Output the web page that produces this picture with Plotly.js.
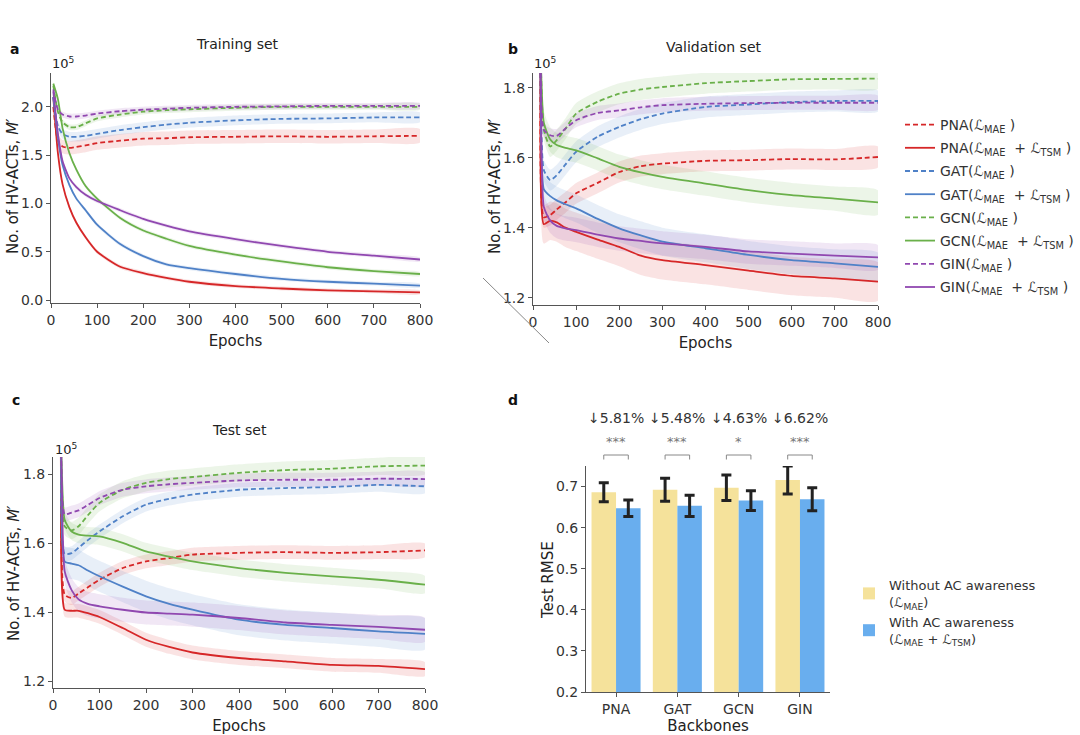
<!DOCTYPE html>
<html>
<head>
<meta charset="utf-8">
<script src="https://cdn.plot.ly/plotly-3.0.1.min.js"></script>
<style>
  html, body { margin: 0; padding: 0; background: #fff; }
  #chart { width: 1080px; height: 735px; }
</style>
</head>
<body>
<div id="chart"></div>
<script>
var epochs = [5, 15, 25, 40, 55, 75, 100, 150, 200, 250, 300, 400, 500, 600, 700, 800];

// a: training set (x 1e5)
var trainPnaMae = [2.00, 1.65, 1.59, 1.575, 1.585, 1.60, 1.625, 1.65, 1.67, 1.675, 1.685, 1.69, 1.695, 1.69, 1.695, 1.70];
var trainPnaTsm = [2.10, 1.52, 1.20, 0.96, 0.80, 0.65, 0.50, 0.345, 0.28, 0.23, 0.19, 0.145, 0.12, 0.10, 0.09, 0.08];
var trainGatMae = [2.10, 1.80, 1.72, 1.69, 1.69, 1.70, 1.72, 1.76, 1.79, 1.815, 1.835, 1.86, 1.875, 1.88, 1.89, 1.89];
var trainGatTsm = [2.10, 1.68, 1.40, 1.19, 1.05, 0.93, 0.78, 0.58, 0.455, 0.37, 0.33, 0.27, 0.22, 0.19, 0.17, 0.15];
var trainGcnMae = [2.22, 1.95, 1.84, 1.79, 1.79, 1.83, 1.88, 1.92, 1.95, 1.965, 1.975, 1.99, 2.00, 2.00, 2.00, 2.00];
var trainGcnTsm = [2.24, 2.08, 1.78, 1.52, 1.35, 1.18, 1.05, 0.85, 0.72, 0.635, 0.56, 0.47, 0.40, 0.34, 0.30, 0.27];
var trainGinMae = [2.18, 1.97, 1.92, 1.90, 1.90, 1.91, 1.93, 1.955, 1.97, 1.98, 1.99, 2.00, 2.005, 2.01, 2.01, 2.01];
var trainGinTsm = [2.16, 1.72, 1.44, 1.26, 1.17, 1.09, 1.025, 0.93, 0.84, 0.77, 0.71, 0.63, 0.56, 0.50, 0.46, 0.42];
var trainBand = [0.07, 0.02, 0.05, 0.02, 0.03, 0.02, 0.03, 0.02];

// b: validation set
var valPnaMae = [2.00, 1.95, 1.43, 1.436, 1.452, 1.472, 1.498, 1.528, 1.559, 1.576, 1.583, 1.591, 1.593, 1.596, 1.595, 1.602];
var valPnaTsm = [2.00, 1.95, 1.41, 1.42, 1.415, 1.40, 1.388, 1.366, 1.345, 1.32, 1.307, 1.293, 1.277, 1.262, 1.255, 1.246];
var valGatMae = [2.00, 1.95, 1.565, 1.536, 1.55, 1.58, 1.617, 1.66, 1.688, 1.71, 1.726, 1.745, 1.752, 1.759, 1.762, 1.762];
var valGatTsm = [2.00, 1.95, 1.51, 1.49, 1.478, 1.467, 1.455, 1.425, 1.398, 1.378, 1.36, 1.341, 1.322, 1.307, 1.298, 1.288];
var valGcnMae = [2.00, 1.95, 1.68, 1.632, 1.65, 1.682, 1.726, 1.76, 1.783, 1.795, 1.802, 1.813, 1.819, 1.824, 1.825, 1.826];
var valGcnTsm = [2.00, 1.95, 1.70, 1.652, 1.636, 1.628, 1.621, 1.598, 1.574, 1.558, 1.545, 1.526, 1.507, 1.493, 1.483, 1.472];
var valGinMae = [2.00, 1.95, 1.68, 1.664, 1.662, 1.683, 1.707, 1.728, 1.735, 1.744, 1.75, 1.754, 1.756, 1.757, 1.757, 1.757];
var valGinTsm = [2.00, 1.95, 1.46, 1.42, 1.405, 1.398, 1.393, 1.38, 1.369, 1.362, 1.355, 1.345, 1.332, 1.326, 1.32, 1.315];
var valBand = [0.03, 0.055, 0.03, 0.04, 0.03, 0.035, 0.02, 0.035];

// c: test set
var testPnaMae = [2.00, 1.95, 1.452, 1.442, 1.455, 1.473, 1.495, 1.529, 1.548, 1.558, 1.568, 1.573, 1.575, 1.573, 1.575, 1.58];
var testPnaTsm = [2.00, 1.95, 1.408, 1.405, 1.405, 1.398, 1.387, 1.355, 1.321, 1.30, 1.284, 1.268, 1.258, 1.248, 1.245, 1.236];
var testGatMae = [2.00, 1.95, 1.57, 1.572, 1.588, 1.61, 1.635, 1.679, 1.713, 1.73, 1.742, 1.756, 1.761, 1.764, 1.77, 1.766];
var testGatTsm = [2.00, 1.95, 1.548, 1.542, 1.537, 1.522, 1.505, 1.475, 1.447, 1.425, 1.408, 1.379, 1.364, 1.355, 1.345, 1.338];
var testGcnMae = [2.00, 1.95, 1.65, 1.638, 1.65, 1.682, 1.718, 1.756, 1.776, 1.787, 1.793, 1.805, 1.813, 1.817, 1.824, 1.826];
var testGcnTsm = [2.00, 1.95, 1.669, 1.635, 1.626, 1.623, 1.621, 1.602, 1.577, 1.562, 1.548, 1.529, 1.515, 1.505, 1.495, 1.481];
var testGinMae = [2.00, 1.95, 1.685, 1.69, 1.696, 1.712, 1.732, 1.756, 1.766, 1.772, 1.776, 1.783, 1.785, 1.785, 1.788, 1.787];
var testGinTsm = [2.00, 1.95, 1.52, 1.465, 1.438, 1.425, 1.418, 1.408, 1.40, 1.397, 1.394, 1.384, 1.371, 1.364, 1.358, 1.35];
var testBand = [0.02, 0.02, 0.02, 0.045, 0.025, 0.025, 0.02, 0.035];

// d: test RMSE
var backbones = ['PNA', 'GAT', 'GCN', 'GIN'];
var rmseMae = [0.686, 0.692, 0.697, 0.716];
var rmseMaeErr = [0.023, 0.028, 0.031, 0.034];
var rmseTsm = [0.647, 0.653, 0.666, 0.669];
var rmseTsmErr = [0.020, 0.026, 0.024, 0.028];
var drops = ['5.81%', '5.48%', '4.63%', '6.62%'];
var stars = ['***', '***', '*', '***'];

var seriesNames = [
    'PNA(ℒ<sub>MAE</sub> )', 'PNA(ℒ<sub>MAE</sub>  + ℒ<sub>TSM</sub> )',
    'GAT(ℒ<sub>MAE</sub> )', 'GAT(ℒ<sub>MAE</sub>  + ℒ<sub>TSM</sub> )',
    'GCN(ℒ<sub>MAE</sub> )', 'GCN(ℒ<sub>MAE</sub>  + ℒ<sub>TSM</sub> )',
    'GIN(ℒ<sub>MAE</sub> )', 'GIN(ℒ<sub>MAE</sub>  + ℒ<sub>TSM</sub> )'
];
var lineColors = ['#d62728', '#d62728', '#4f81c7', '#4f81c7', '#6ab04a', '#6ab04a', '#9048b0', '#9048b0'];
var bandColors = ['rgba(214,39,40,0.13)', 'rgba(214,39,40,0.13)', 'rgba(79,129,199,0.13)', 'rgba(79,129,199,0.13)',
                  'rgba(106,176,74,0.13)', 'rgba(106,176,74,0.13)', 'rgba(144,72,176,0.13)', 'rgba(144,72,176,0.13)'];

var panels = [
    {xa: 'x', ya: 'y', series: [trainPnaMae, trainPnaTsm, trainGatMae, trainGatTsm, trainGcnMae, trainGcnTsm, trainGinMae, trainGinTsm], band: trainBand},
    {xa: 'x2', ya: 'y2', series: [valPnaMae, valPnaTsm, valGatMae, valGatTsm, valGcnMae, valGcnTsm, valGinMae, valGinTsm], band: valBand},
    {xa: 'x3', ya: 'y3', series: [testPnaMae, testPnaTsm, testGatMae, testGatTsm, testGcnMae, testGcnTsm, testGinMae, testGinTsm], band: testBand}
];

var data = [];
panels.forEach(function(p, pi) {
    // shaded bands first
    p.series.forEach(function(s, i) {
        var up = s.map(function(v) { return v + p.band[i]; });
        var lo = s.map(function(v) { return v - p.band[i]; });
        data.push({
            type: 'scatter', mode: 'lines', xaxis: p.xa, yaxis: p.ya,
            x: epochs.concat(epochs.slice().reverse()),
            y: up.concat(lo.reverse()),
            fill: 'toself', fillcolor: bandColors[i],
            line: {width: 0, shape: 'spline', smoothing: 0.6},
            showlegend: false, hoverinfo: 'skip'
        });
    });
    p.series.forEach(function(s, i) {
        data.push({
            type: 'scatter', mode: 'lines', xaxis: p.xa, yaxis: p.ya,
            x: epochs, y: s,
            name: seriesNames[i],
            legendgroup: 'g' + i,
            showlegend: pi === 0,
            line: {color: lineColors[i], width: 1.8, dash: i % 2 === 0 ? '5px,3px' : 'solid', shape: 'spline', smoothing: 0.6}
        });
    });
});

data.push({
    type: 'bar', xaxis: 'x4', yaxis: 'y4', x: backbones, y: rmseMae,
    name: 'Without AC awareness<br>(ℒ<sub>MAE</sub>)', legend: 'legend2',
    marker: {color: '#f5e29b'},
    error_y: {type: 'data', array: rmseMaeErr, color: '#222', thickness: 3, width: 5}
});
data.push({
    type: 'bar', xaxis: 'x4', yaxis: 'y4', x: backbones, y: rmseTsm,
    name: 'With AC awareness<br>(ℒ<sub>MAE</sub> + ℒ<sub>TSM</sub>)', legend: 'legend2',
    marker: {color: '#69aeee'},
    error_y: {type: 'data', array: rmseTsmErr, color: '#222', thickness: 3, width: 5}
});

var font = 'DejaVu Sans, sans-serif';
function ax(extra) {
    var base = {
        showline: true, linecolor: '#555', linewidth: 1, ticks: 'outside', ticklen: 4,
        tickcolor: '#555', showgrid: false, zeroline: false,
        tickfont: {size: 14, color: '#333', family: font}
    };
    for (var k in extra) base[k] = extra[k];
    return base;
}
var xTitle = {text: 'Epochs', font: {size: 15, color: '#222'}, standoff: 8};
var yTitleText = 'No. of HV-ACTs, <i>M′</i>';

var annotations = [
    {text: '<b>a</b>', x: 14 / 1080, y: 1 - 49 / 735},
    {text: '<b>b</b>', x: 513 / 1080, y: 1 - 49 / 735},
    {text: '<b>c</b>', x: 16 / 1080, y: 1 - 400 / 735},
    {text: '<b>d</b>', x: 513 / 1080, y: 1 - 400 / 735},
    {text: 'Training set', x: 237 / 1080, y: 1 - 44 / 735, font: {size: 14, color: '#222'}},
    {text: 'Validation set', x: 713 / 1080, y: 1 - 47 / 735, font: {size: 14, color: '#222'}},
    {text: 'Test set', x: 239 / 1080, y: 1 - 430 / 735, font: {size: 14, color: '#222'}},
    {text: '10<sup>5</sup>', x: 63 / 1080, y: 1 - 63 / 735, font: {size: 13, color: '#222'}},
    {text: '10<sup>5</sup>', x: 545 / 1080, y: 1 - 63 / 735, font: {size: 13, color: '#222'}},
    {text: '10<sup>5</sup>', x: 66 / 1080, y: 1 - 449 / 735, font: {size: 13, color: '#222'}},
    {text: yTitleText, x: 13 / 1080, y: 1 - 186 / 735, angle: -90, font: {size: 15, color: '#222'}},
    {text: yTitleText, x: 495 / 1080, y: 1 - 186 / 735, angle: -90, font: {size: 15, color: '#222'}},
    {text: yTitleText, x: 14 / 1080, y: 1 - 573 / 735, angle: -90, font: {size: 15, color: '#222'}},
    {text: 'Test RMSE', x: 548 / 1080, y: 1 - 580 / 735, angle: -90, font: {size: 15, color: '#222'}}
].map(function(a) {
    return {text: a.text, x: a.x, y: a.y, xref: 'paper', yref: 'paper', showarrow: false,
            textangle: a.angle || 0,
            xanchor: 'center', yanchor: 'middle', font: a.font || {size: 14, color: '#111'}};
});

var shapes = [
    // stray diagonal stroke in panel b
    {type: 'line', xref: 'paper', yref: 'paper', x0: 483 / 1080, y0: 1 - 278 / 735, x1: 549 / 1080, y1: 1 - 343 / 735,
     line: {color: '#888', width: 1}}
];
backbones.forEach(function(b, i) {
    annotations.push({text: '↓' + drops[i], x: i, y: 1 - 418 / 735, xref: 'x4', yref: 'paper', showarrow: false,
                      font: {size: 14, color: '#333'}});
    annotations.push({text: stars[i], x: i, y: 1 - 442 / 735, xref: 'x4', yref: 'paper', showarrow: false,
                      font: {size: 13, color: '#777'}});
    shapes.push({type: 'path', xref: 'x4', yref: 'paper',
                 path: 'M ' + (i - 0.2) + ' ' + (1 - 459.5 / 735) + ' L ' + (i - 0.2) + ' ' + (1 - 455 / 735) +
                       ' L ' + (i + 0.2) + ' ' + (1 - 455 / 735) + ' L ' + (i + 0.2) + ' ' + (1 - 459.5 / 735),
                 line: {color: '#888', width: 1}});
});

var layout = {
    width: 1080, height: 735,
    margin: {l: 0, r: 0, t: 0, b: 0},
    paper_bgcolor: '#fff', plot_bgcolor: '#fff',
    font: {family: font, color: '#333'},
    barmode: 'group', bargap: 0.2, bargroupgap: 0,
    xaxis: ax({domain: [51 / 1080, 420 / 1080], anchor: 'y', range: [0, 800], dtick: 100, title: xTitle}),
    yaxis: ax({domain: [1 - 303 / 735, 1 - 73 / 735], anchor: 'x', range: [-0.03, 2.35],
               tickvals: [0, 0.5, 1, 1.5, 2], tickformat: '.1f'}),
    xaxis2: ax({domain: [533 / 1080, 878 / 1080], anchor: 'y2', range: [0, 800], dtick: 100, title: xTitle}),
    yaxis2: ax({domain: [1 - 305 / 735, 1 - 73 / 735], anchor: 'x2', range: [1.179, 1.842],
                tickvals: [1.2, 1.4, 1.6, 1.8], tickformat: '.1f'}),
    xaxis3: ax({domain: [53 / 1080, 425 / 1080], anchor: 'y3', range: [0, 800], dtick: 100, title: xTitle}),
    yaxis3: ax({domain: [1 - 688 / 735, 1 - 457 / 735], anchor: 'x3', range: [1.181, 1.851],
                tickvals: [1.2, 1.4, 1.6, 1.8], tickformat: '.1f'}),
    xaxis4: ax({domain: [586 / 1080, 830 / 1080], anchor: 'y4', range: [-0.49, 3.49],
                title: {text: 'Backbones', font: {size: 15, color: '#222'}, standoff: 6}}),
    yaxis4: ax({domain: [1 - 692 / 735, 1 - 466 / 735], anchor: 'x4', range: [0.2, 0.75], dtick: 0.1,
                tickformat: '.1f'}),
    legend: {x: 900 / 1080, y: 1 - 109 / 735, xanchor: 'left', yanchor: 'top',
             font: {size: 14, color: '#333', family: font}, itemwidth: 30, tracegroupgap: 2,
             bgcolor: 'rgba(0,0,0,0)'},
    legend2: {x: 849 / 1080, y: 1 - 570 / 735, xanchor: 'left', yanchor: 'top',
              font: {size: 13, color: '#333', family: font}, itemwidth: 30, tracegroupgap: 4,
              bgcolor: 'rgba(0,0,0,0)'},
    annotations: annotations,
    shapes: shapes
};

Plotly.newPlot('chart', data, layout, {displayModeBar: false, staticPlot: true});
</script>
</body>
</html>
